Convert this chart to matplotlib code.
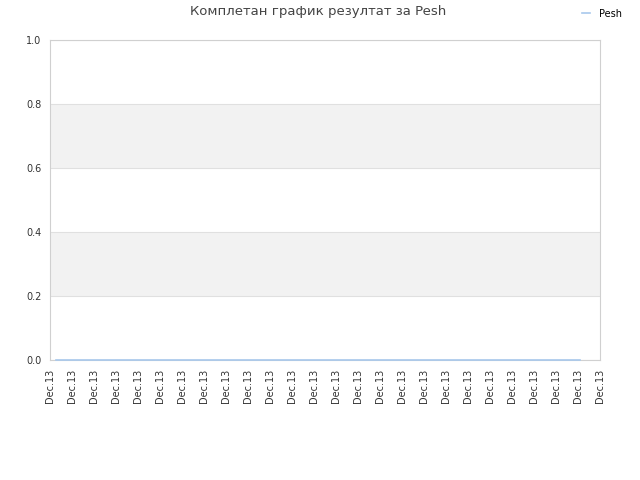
import matplotlib
matplotlib.use("Agg")
import matplotlib.pyplot as plt

# chart data
tick_labels = ["Dec.13"] * 26
series_name = "Pesh"
series_x = [0.27, 24.09]
series_y = [0, 0]
title = "Комплетан график резултат за Pesh"

fig = plt.figure(figsize=(6.4, 4.8), dpi=100)
ax = fig.add_axes([50 / 640, 1 - 360 / 480, 550 / 640, 320 / 480])

# alternating bands
for lo, hi in [(0.2, 0.4), (0.6, 0.8)]:
    ax.axhspan(lo, hi, color="#f2f2f2", zorder=0, lw=0)
ax.set_yticks([0, 0.2, 0.4, 0.6, 0.8, 1.0])
ax.yaxis.grid(True, color="#e0e0e0", lw=0.8, zorder=1)

ax.plot(series_x, series_y, color="#a8c8ec", lw=1.2, label=series_name, zorder=3,
        clip_on=False)

ax.set_xlim(0, len(tick_labels) - 1)
ax.set_ylim(0, 1.0)
ax.set_xticks(range(len(tick_labels)))
ax.set_xticklabels(tick_labels, rotation=90, fontsize=7, color="#333333")
ax.tick_params(axis="y", labelsize=7, labelcolor="#333333")
ax.tick_params(length=0, pad=6)
ax.set_yticklabels(["0.0", "0.2", "0.4", "0.6", "0.8", "1.0"])
for s in ax.spines.values():
    s.set_color("#d0d0d0")

fig.text(318 / 640, 1 - 12 / 480, title, ha="center", va="center",
         fontsize=9.5, color="#444444")
fig.legend(loc="upper right", bbox_to_anchor=(0.985, 1.0), frameon=False,
           fontsize=7, handlelength=0.85, handletextpad=0.9)

fig.savefig("out.png", dpi=100)
